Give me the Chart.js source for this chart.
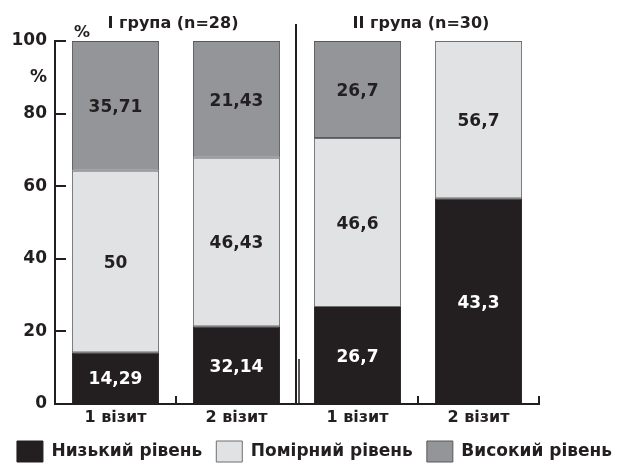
<!DOCTYPE html>
<html>
<head>
<meta charset="utf-8">
<script src="https://cdn.jsdelivr.net/npm/chart.js@4.4.1/dist/chart.umd.min.js"></script>
<style>
  html, body { margin: 0; padding: 0; background: #fff; }
  #wrap { width: 629px; height: 465px; position: relative; }
</style>
</head>
<body>
<div id="wrap"><canvas id="chart"></canvas></div>
<script>
// categories and segment heights
const visits = ['1 візит', '2 візит', '1 візит', '2 візит'];
const groups = ['I група (n=28)', 'II група (n=30)'];
const seriesNames = ['Низький рівень', 'Помірний рівень', 'Високий рівень'];

const lowVals = [14.29, 21.43, 26.7, 56.7];
const midVals = [50, 46.43, 46.6, 43.3];
const highVals = [35.71, 32.14, 26.7, 0];

// numbers printed in the segments (as in the original figure)
const lowLabels = ['14,29', '32,14', '26,7', '43,3'];
const midLabels = ['50', '46,43', '46,6', '56,7'];
const highLabels = ['35,71', '21,43', '26,7', ''];

const yTicks = [0, 20, 40, 60, 80, 100];

const ink = '#231f20';
const FONT = '"DejaVu Sans", sans-serif';

// segment values, axis ticks, separator, group titles
const decor = {
  id: 'decor',
  afterDatasetsDraw(chart) {
    const ctx = chart.ctx;
    const x = chart.scales.x, y = chart.scales.y;
    const area = chart.chartArea;
    ctx.save();
    ctx.strokeStyle = ink;
    ctx.lineWidth = 2;
    // inward ticks on y axis
    yTicks.forEach(v => {
      const py = Math.round(y.getPixelForValue(v));
      ctx.beginPath();
      ctx.moveTo(area.left, py);
      ctx.lineTo(area.left + 11, py);
      ctx.stroke();
    });
    // small upward ticks between bars
    [0.5, 2.5, 3.5].forEach(i => {
      const px = Math.round(x.getPixelForValue(i));
      ctx.beginPath();
      ctx.moveTo(px, area.bottom);
      ctx.lineTo(px, area.bottom - 8);
      ctx.stroke();
    });
    // group separator
    const sx = Math.round(x.getPixelForValue(1.5));
    ctx.beginPath();
    ctx.moveTo(sx - 1, 24);
    ctx.lineTo(sx - 1, area.bottom);
    ctx.stroke();
    ctx.lineWidth = 1.5;
    ctx.beginPath();
    ctx.moveTo(sx + 2, area.bottom - 45);
    ctx.lineTo(sx + 2, area.bottom);
    ctx.stroke();

    // value labels inside segments
    const labelSets = [lowLabels, midLabels, highLabels];
    ctx.font = 'bold 17px ' + FONT;
    ctx.textAlign = 'center';
    ctx.textBaseline = 'middle';
    chart.data.datasets.forEach((ds, di) => {
      const meta = chart.getDatasetMeta(di);
      meta.data.forEach((bar, i) => {
        const txt = labelSets[di][i];
        if (!txt) return;
        ctx.fillStyle = di === 0 ? '#ffffff' : ink;
        ctx.fillText(txt, bar.x, (bar.y + bar.base) / 2 + 2);
      });
    });

    // group titles
    ctx.fillStyle = ink;
    ctx.font = 'bold 16px ' + FONT;
    ctx.fillText(groups[0], x.getPixelForValue(0.5) - 3, 24);
    ctx.fillText(groups[1], x.getPixelForValue(2.5) + 3, 24);
    // % above first bar
    ctx.fillText('%', area.left + 27, 33);
    ctx.restore();
  }
};

new Chart(document.getElementById('chart'), {
  type: 'bar',
  data: {
    labels: visits,
    datasets: [
      { label: seriesNames[0], data: lowVals, backgroundColor: ink, borderColor: '#231f20' },
      { label: seriesNames[1], data: midVals, backgroundColor: '#e1e2e4', borderColor: '#6d6e71' },
      { label: seriesNames[2], data: highVals, backgroundColor: '#939598', borderColor: '#58595b' }
    ]
  },
  options: {
    responsive: true,
    maintainAspectRatio: false,
    animation: false,
    datasets: {
      bar: { categoryPercentage: 0.72, barPercentage: 1, borderWidth: 1, borderSkipped: false }
    },
    layout: { padding: { top: 41, left: 0, right: 0, bottom: -7 } },
    scales: {
      x: {
        stacked: true,
        grid: { display: false, drawTicks: false },
        border: { display: true, color: ink, width: 2 },
        ticks: { color: ink, padding: 4, font: { family: FONT, size: 16, weight: 'bold' } },
        afterFit(s) { s.height = 23; }
      },
      y: {
        stacked: true,
        min: 0, max: 100,
        grid: { display: false, drawTicks: false },
        border: { display: true, color: ink, width: 2 },
        ticks: {
          stepSize: 10,
          padding: 8,
          color: ink,
          font: { family: FONT, size: 17, weight: 'bold' },
          callback: v => (v % 20 === 0 ? v : (v === 90 ? '%' : ''))
        },
        afterFit(s) { s.width = 55; }
      },
      pad: {
        position: 'right',
        display: true,
        grid: { display: false, drawTicks: false },
        border: { display: false },
        ticks: { display: false },
        afterFit(s) { s.width = 90; }
      }
    },
    plugins: {
      legend: {
        position: 'bottom',
        labels: {
          boxWidth: 26,
          boxHeight: 21,
          padding: 14,
          color: ink,
          font: { family: FONT, size: 17, weight: 'bold' }
        }
      },
      tooltip: { enabled: false }
    }
  },
  plugins: [decor]
});
</script>
</body>
</html>
